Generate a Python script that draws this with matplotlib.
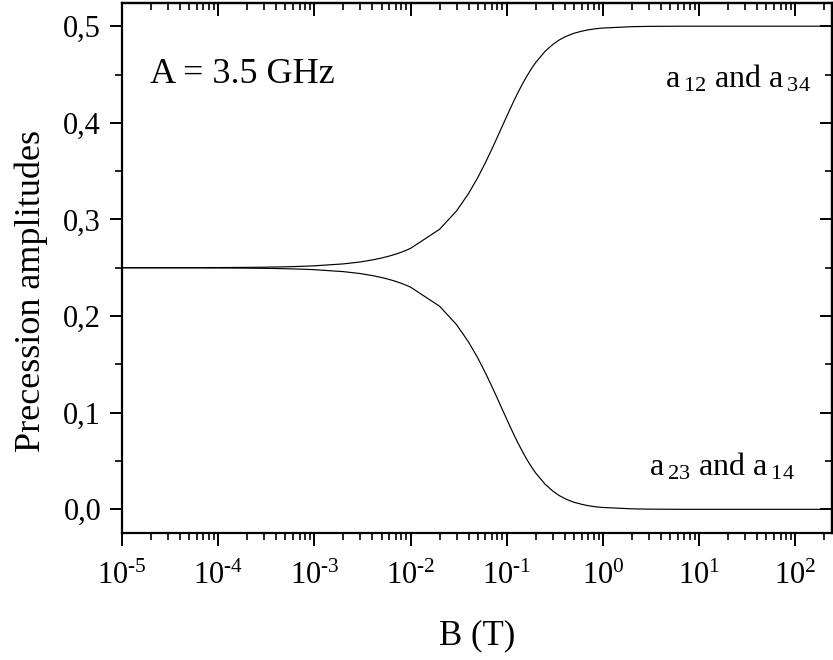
import matplotlib
matplotlib.use("Agg")
import matplotlib.pyplot as plt
from matplotlib.ticker import FixedLocator, LogLocator, NullFormatter

plt.rcParams['font.family'] = ['Liberation Serif', 'DejaVu Serif']
plt.rcParams['mathtext.fontset'] = 'custom'
plt.rcParams['mathtext.rm'] = 'Liberation Serif'
plt.rcParams['mathtext.it'] = 'Liberation Serif:italic'
plt.rcParams['mathtext.bf'] = 'Liberation Serif:bold'

# Magnetic field B (T)
B = [1e-5, 2e-5, 3e-5, 4e-5, 5e-5, 6e-5, 7e-5, 8e-5, 9e-5,
     1e-4, 2e-4, 3e-4, 4e-4, 5e-4, 6e-4, 7e-4, 8e-4, 9e-4,
     1e-3, 2e-3, 3e-3, 4e-3, 5e-3, 6e-3, 7e-3, 8e-3, 9e-3,
     0.01, 0.02, 0.03, 0.04, 0.05, 0.06, 0.07, 0.08, 0.09,
     0.10, 0.11, 0.12, 0.13, 0.14, 0.15, 0.16, 0.17, 0.18, 0.19,
     0.20, 0.25, 0.30, 0.35, 0.40, 0.45, 0.50, 0.60, 0.70, 0.80, 0.90,
     1e0, 2e0, 3e0, 4e0, 5e0, 6e0, 7e0, 8e0, 9e0,
     1e1, 2e1, 3e1, 4e1, 5e1, 6e1, 7e1, 8e1, 9e1,
     1e2, 2e2, 3e2]

# a12 and a34
a12 = [0.2500, 0.2500, 0.2501, 0.2501, 0.2501, 0.2501, 0.2501, 0.2502, 0.2502,
       0.2502, 0.2504, 0.2506, 0.2508, 0.2510, 0.2512, 0.2514, 0.2516, 0.2518,
       0.2520, 0.2540, 0.2560, 0.2581, 0.2601, 0.2621, 0.2641, 0.2661, 0.2681,
       0.2701, 0.2898, 0.3088, 0.3268, 0.3435, 0.3589, 0.3729, 0.3855, 0.3969,
       0.4069, 0.4159, 0.4239, 0.4309, 0.4371, 0.4427, 0.4476, 0.4520, 0.4559, 0.4594,
       0.4625, 0.4740, 0.4810, 0.4857, 0.4888, 0.4910, 0.4927, 0.4948, 0.4962, 0.4971, 0.4977,
       0.4981, 0.4995, 0.4998, 0.4999, 0.4999, 0.5000, 0.5000, 0.5000, 0.5000,
       0.5000, 0.5000, 0.5000, 0.5000, 0.5000, 0.5000, 0.5000, 0.5000, 0.5000,
       0.5000, 0.5000, 0.5000]

# a23 and a14
a23 = [0.2500, 0.2500, 0.2499, 0.2499, 0.2499, 0.2499, 0.2499, 0.2498, 0.2498,
       0.2498, 0.2496, 0.2494, 0.2492, 0.2490, 0.2488, 0.2486, 0.2484, 0.2482,
       0.2480, 0.2460, 0.2440, 0.2419, 0.2399, 0.2379, 0.2359, 0.2339, 0.2319,
       0.2299, 0.2102, 0.1912, 0.1732, 0.1565, 0.1411, 0.1271, 0.1145, 0.1031,
       0.0931, 0.0841, 0.0761, 0.0691, 0.0629, 0.0573, 0.0524, 0.0480, 0.0441, 0.0406,
       0.0375, 0.0260, 0.0190, 0.0143, 0.0112, 0.0090, 0.0073, 0.0052, 0.0038, 0.0029, 0.0023,
       0.0019, 0.0005, 0.0002, 0.0001, 0.0001, 0.0000, 0.0000, 0.0000, 0.0000,
       0.0000, 0.0000, 0.0000, 0.0000, 0.0000, 0.0000, 0.0000, 0.0000, 0.0000,
       0.0000, 0.0000, 0.0000]

yticks = [0.0, 0.1, 0.2, 0.3, 0.4, 0.5]
ytick_labels = ["0,0", "0,1", "0,2", "0,3", "0,4", "0,5"]
xticks = [1e-5, 1e-4, 1e-3, 1e-2, 1e-1, 1e0, 1e1, 1e2]
xtick_labels = [r"$10^{\text{-}5}$", r"$10^{\text{-}4}$", r"$10^{\text{-}3}$",
                r"$10^{\text{-}2}$", r"$10^{\text{-}1}$", r"$10^{0}$", r"$10^{1}$",
                r"$10^{2}$"]
yminor = [0.05, 0.15, 0.25, 0.35, 0.45]

fig = plt.figure(figsize=(8.33, 6.60), dpi=100)
ax = fig.add_axes([122 / 833, (660 - 533) / 660, 710 / 833, 530 / 660])

ax.plot(B, a12, color='black', lw=0.85)
ax.plot(B, a23, color='black', lw=0.85)

ax.set_xscale('log')
ax.set_xlim(1e-5, 2.4e2)
ax.set_ylim(-0.0245, 0.524)

ax.set_xticks(xticks)
ax.set_xticklabels(xtick_labels)
ax.xaxis.set_minor_locator(LogLocator(base=10, subs=[2, 3, 4, 5, 6, 7, 8, 9], numticks=50))
ax.xaxis.set_minor_formatter(NullFormatter())

ax.set_yticks(yticks)
ax.set_yticklabels(ytick_labels)
ax.yaxis.set_minor_locator(FixedLocator(yminor))

for s in ax.spines.values():
    s.set_linewidth(1.6)

ax.tick_params(axis='both', which='major', direction='out', length=9, width=1.4,
               labelsize=22, pad=6)
ax.tick_params(axis='both', which='minor', direction='out', length=5, width=1.2)
ax.tick_params(axis='x', which='major', pad=12)

# mirrored inward ticks on top and right
axt = ax.secondary_xaxis('top')
axt.set_xticks(xticks)
axt.xaxis.set_minor_locator(LogLocator(base=10, subs=[2, 3, 4, 5, 6, 7, 8, 9], numticks=50))
axt.xaxis.set_minor_formatter(NullFormatter())
axt.tick_params(which='major', direction='in', length=9, width=1.4, labeltop=False)
axt.tick_params(which='minor', direction='in', length=5, width=1.2)
axt.spines['top'].set_linewidth(1.6)

axr = ax.secondary_yaxis('right')
axr.set_yticks(yticks)
axr.yaxis.set_minor_locator(FixedLocator(yminor))
axr.tick_params(which='major', direction='in', length=9, width=1.4, labelright=False)
axr.tick_params(which='minor', direction='in', length=5, width=1.2)
axr.spines['right'].set_linewidth(1.6)

ax.set_xlabel("B (T)", fontsize=25)
ax.set_ylabel("Precession amplitudes", fontsize=26)
ax.xaxis.set_label_coords(0.5, -0.162)
ax.yaxis.set_label_coords(-0.104, 0.457)

ax.text(0.039, 0.849, "A = 3.5 GHz", transform=ax.transAxes, fontsize=26,
        ha='left', va='baseline')
ax.text(0.765, 0.840, r"a$\,_{12}$ and a$\,_{34}$", transform=ax.transAxes, fontsize=23,
        ha='left', va='baseline')
ax.text(0.742, 0.109, r"a$\,_{23}$ and a$\,_{14}$", transform=ax.transAxes, fontsize=23,
        ha='left', va='baseline')

fig.savefig("out.png", dpi=100)
